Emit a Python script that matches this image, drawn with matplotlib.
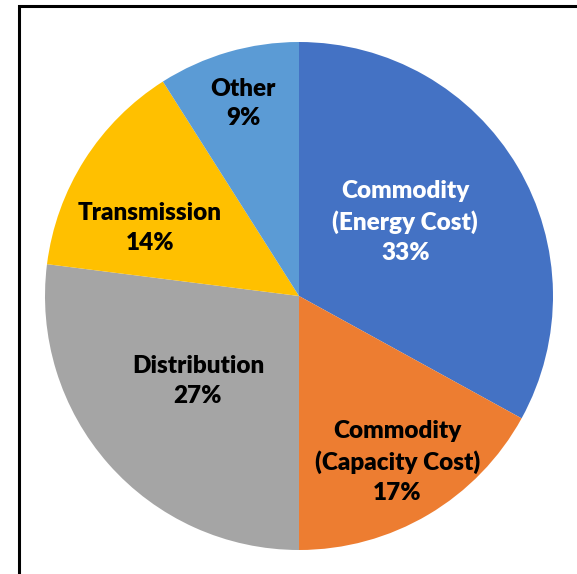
import numpy as np
import matplotlib
matplotlib.use("Agg")
import matplotlib.pyplot as plt
from matplotlib.patches import Rectangle

categories = ["Commodity\n(Energy Cost)", "Commodity\n(Capacity Cost)", "Distribution", "Transmission", "Other"]
values = [33, 17, 27, 14, 9]
colors = ["#4472C4", "#ED7D31", "#A5A5A5", "#FFC000", "#5B9BD5"]
text_colors = ["white", "black", "black", "black", "black"]
label_radius = [0.51, 0.76, 0.52, 0.645, 0.79]
label_angle_shift = [4.3, 0.0, -1.3, 7.9, 0.0]

W, H = 577, 574
fig = plt.figure(figsize=(W / 100, H / 100), dpi=100)
cx, cy, r = 299, 296, 254
ax = fig.add_axes([(cx - r) / W, (H - cy - r) / H, 2 * r / W, 2 * r / H])
wedges, _ = ax.pie(values, colors=colors, startangle=90, counterclock=False, radius=1,
                   wedgeprops=dict(linewidth=0))
ax.set_xlim(-1, 1)
ax.set_ylim(-1, 1)
ax.set_aspect("equal")
ax.axis("off")

for w, lab, v, tc, lr, da in zip(wedges, categories, values, text_colors, label_radius, label_angle_shift):
    ang = np.deg2rad((w.theta1 + w.theta2) / 2 + da)
    ax.text(lr * np.cos(ang), lr * np.sin(ang), f"{lab}\n{v}%", ha="center", va="center",
            color=tc, fontsize=17.5, fontweight="heavy", family="Lato", linespacing=1.42)

# outer frame
fig.patches.append(Rectangle((19 / W, -0.1), 1.2, 1 - 6 / H + 0.1, transform=fig.transFigure,
                             fill=False, edgecolor="black", linewidth=2.2))

fig.savefig("out.png", dpi=100)
